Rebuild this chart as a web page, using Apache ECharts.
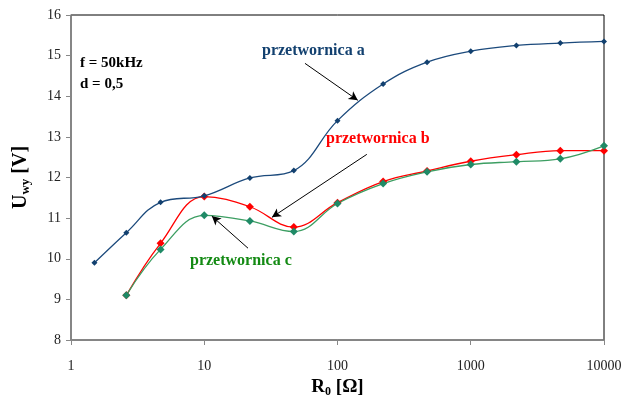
<!DOCTYPE html>
<html style="height: 100%">
<head>
	<meta charset="utf-8">
</head>
<body style="height: 100%; margin: 0; background: #fff">
<div id="container" style="width: 627px; height: 397px"></div>
<script type="text/javascript" src="https://cdn.jsdelivr.net/npm/echarts@6/dist/echarts.min.js"></script>
<script type="text/javascript">
    // R0 values [ohm]
    var r0A = [1.5, 2.6, 4.7, 10, 22, 47, 100, 220, 470, 1000, 2200, 4700, 10000];
    var r0BC = [2.6, 4.7, 10, 22, 47, 100, 220, 470, 1000, 2200, 4700, 10000];
    // Uwy [V]
    var uA = [9.90, 10.64, 11.39, 11.55, 11.99, 12.17, 13.40, 14.30, 14.84, 15.11, 15.25, 15.31, 15.35];
    var uB = [9.10, 10.38, 11.53, 11.28, 10.78, 11.38, 11.90, 12.16, 12.40, 12.56, 12.66, 12.66];
    var uC = [9.10, 10.23, 11.07, 10.93, 10.67, 11.36, 11.85, 12.14, 12.32, 12.39, 12.46, 12.78];
    var xTicks = [1, 10, 100, 1000, 10000];

    function pairs(xs, ys) {
        return xs.map(function (x, i) { return [x, ys[i]]; });
    }

    var serif = 'Liberation Serif';
    var dom = document.getElementById("container");
    var myChart = echarts.init(dom);

    var arrow = function (from, to) {
        return [{ coord: from }, { coord: to }];
    };

    var option = {
        backgroundColor: '#fff',
        animation: false,
        grid: {
            left: 71, right: 23, top: 15, bottom: 57,
            outerBoundsMode: 'none',
            containLabel: false,
            show: true, borderColor: '#000', borderWidth: 1
        },
        xAxis: {
            type: 'log',
            logBase: 10,
            min: 1,
            max: 10000,
            name: '{b|R}{s|0}{b| [Ω]}',
            nameLocation: 'middle',
            nameGap: 36,
            nameTextStyle: {
                rich: {
                    b: { fontFamily: serif, fontWeight: 'bold', fontSize: 19, color: '#000' },
                    s: { fontFamily: serif, fontWeight: 'bold', fontSize: 12, color: '#000', padding: [9, 0, 0, 0] }
                }
            },
            axisLine: { show: true, lineStyle: { color: '#888', width: 1.5 } },
            axisTick: { show: true, inside: false, length: 5, lineStyle: { color: '#888' } },
            minorTick: { show: false },
            splitLine: { show: false },
            axisLabel: {
                fontFamily: serif, fontSize: 14, color: '#222', margin: 19,
                formatter: function (v) { return xTicks.indexOf(v) >= 0 ? String(v) : ''; }
            }
        },
        yAxis: {
            type: 'value',
            min: 8,
            max: 16,
            interval: 1,
            name: '{b|U}{s|wy}{b| [V]}',
            nameLocation: 'middle',
            nameGap: 39,
            nameRotate: 90,
            nameTextStyle: {
                rich: {
                    b: { fontFamily: serif, fontWeight: 'bold', fontSize: 20, color: '#000' },
                    s: { fontFamily: serif, fontWeight: 'bold', fontSize: 13, color: '#000', padding: [10, 0, 0, 0] }
                }
            },
            axisLine: { show: true, lineStyle: { color: '#888', width: 1.5 } },
            axisTick: { show: true, inside: false, length: 5, lineStyle: { color: '#888' } },
            splitLine: { show: false },
            axisLabel: { fontFamily: serif, fontSize: 14, color: '#222', margin: 10 }
        },
        series: [
            {
                name: 'przetwornica a',
                type: 'line',
                data: pairs(r0A, uA),
                smooth: 0.4,
                symbol: 'diamond',
                symbolSize: 6,
                itemStyle: { color: '#12406f' },
                lineStyle: { color: '#1c4a7c', width: 1.3 },
                markLine: {
                    silent: true,
                    symbol: ['none', 'arrow'],
                    symbolSize: [7, 9],
                    label: { show: false },
                    lineStyle: { color: '#000', width: 1, type: 'solid' },
                    data: [
                        arrow([57, 14.81], [142, 13.90]),
                        arrow([166, 12.57], [32.2, 11.02]),
                        arrow([21.3, 10.26], [11.4, 11.05])
                    ]
                },
                z: 3
            },
            {
                name: 'przetwornica b',
                type: 'line',
                data: pairs(r0BC, uB),
                smooth: 0.4,
                symbol: 'diamond',
                symbolSize: 8,
                itemStyle: { color: '#ff0000' },
                lineStyle: { color: '#ff0000', width: 1.3 },
                z: 2
            },
            {
                name: 'przetwornica c',
                type: 'line',
                data: pairs(r0BC, uC),
                smooth: 0.4,
                symbol: 'diamond',
                symbolSize: 8,
                itemStyle: { color: '#1f8a66' },
                lineStyle: { color: '#3c9e62', width: 1.3 },
                z: 2
            }
        ],
        graphic: [
            { type: 'text', left: 80, top: 56, style: { text: 'f = 50kHz', font: 'bold 15px "Liberation Serif"', fill: '#000' } },
            { type: 'text', left: 80, top: 77, style: { text: 'd = 0,5', font: 'bold 15px "Liberation Serif"', fill: '#000' } },
            { type: 'text', left: 262, top: 43, style: { text: 'przetwornica a', font: 'bold 16px "Liberation Serif"', fill: '#12406f' } },
            { type: 'text', left: 326, top: 131, style: { text: 'przetwornica b', font: 'bold 16px "Liberation Serif"', fill: '#ff0000' } },
            { type: 'text', left: 190, top: 253, style: { text: 'przetwornica c', font: 'bold 16px "Liberation Serif"', fill: '#138a13' } }
        ]
    };

    myChart.setOption(option);
</script>
</body>
</html>
